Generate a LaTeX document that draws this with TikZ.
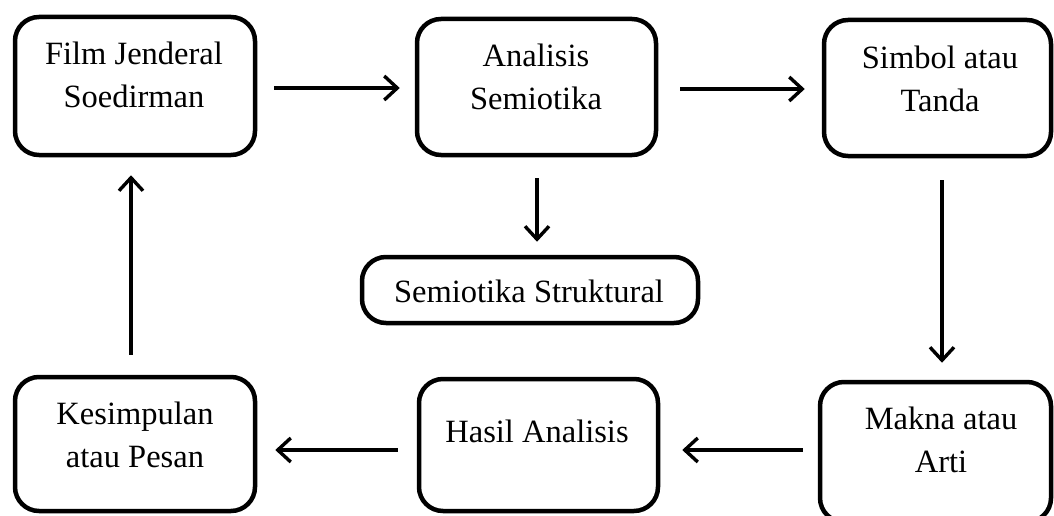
\documentclass[tikz,border=0pt]{standalone}
\usepackage{fontspec}
\setmainfont{Liberation Serif}
\usetikzlibrary{arrows.meta}
\begin{document}
\begin{tikzpicture}[x=1pt,y=-1pt,
  box/.style={draw, line width=4.5pt, rounded corners=24pt, inner sep=0pt},
  lbl/.style={anchor=base, align=center, inner sep=0pt, font=\fontsize{32.5}{43}\selectfont},
  conn/.style={line width=3.4pt, -{Straight Barb[length=13pt,width=24pt,line width=3.4pt]}}]
\useasboundingbox (0,0) rectangle (1054,516);
% boxes
\node[box, minimum width=240pt, minimum height=138pt] (b1) at (135,86) {};
\node[box, minimum width=239pt, minimum height=136pt] (b2) at (536.5,87) {};
\node[box, minimum width=227pt, minimum height=136pt] (b3) at (937.5,88) {};
\node[box, minimum width=336pt, minimum height=66pt] (b4) at (530,290) {};
\node[box, minimum width=240pt, minimum height=134pt] (b5) at (135,444) {};
\node[box, minimum width=239pt, minimum height=132pt] (b6) at (538.5,445) {};
\node[box, minimum width=231pt, minimum height=140pt] (b7) at (935.5,452) {};
% texts (base anchor = baseline of last line)
\node[lbl] (t1) at (134,108) {Film Jenderal\\Soedirman};
\node[lbl] (t2) at (536,110) {Analisis\\Semiotika};
\node[lbl] (t3) at (940,112) {Simbol atau\\Tanda};
\node[lbl] (t4) at (529,302) {Semiotika Struktural};
\node[lbl] (t5) at (135,467) {Kesimpulan\\atau Pesan};
\node[lbl] (t6) at (537,442) {Hasil Analisis};
\node[lbl] (t7) at (941,472) {Makna atau\\Arti};
% connectors
\draw[conn, shorten <=17pt, shorten >=15pt] ([yshift=-2pt]b1.east) -- ([yshift=-2pt]b1.east -| b2.west);
\draw[conn, shorten <=22pt, shorten >=17pt] ([yshift=-2pt]b2.east) -- ([yshift=-2pt]b2.east -| b3.west);
\draw[conn, shorten <=21pt, shorten >=13pt] ([xshift=0.5pt]b2.south) -- ([xshift=0.5pt]b2.south |- b4.north);
\draw[conn, shorten <=22pt, shorten >=17pt] ([xshift=4.5pt]b3.south) -- ([xshift=4.5pt]b3.south |- b7.north);
\draw[conn, shorten <=15pt, shorten >=22pt] ([yshift=2pt]b7.west) -- ([yshift=2pt]b7.west -| b6.east);
\draw[conn, shorten <=19pt, shorten >=18pt] ([yshift=-5pt]b6.west) -- ([yshift=-5pt]b6.west -| b5.east);
\draw[conn, shorten <=20pt, shorten >=18pt] ([xshift=-4pt]b5.north) -- ([xshift=-4pt]b5.north |- b1.south);
\end{tikzpicture}
\end{document}
